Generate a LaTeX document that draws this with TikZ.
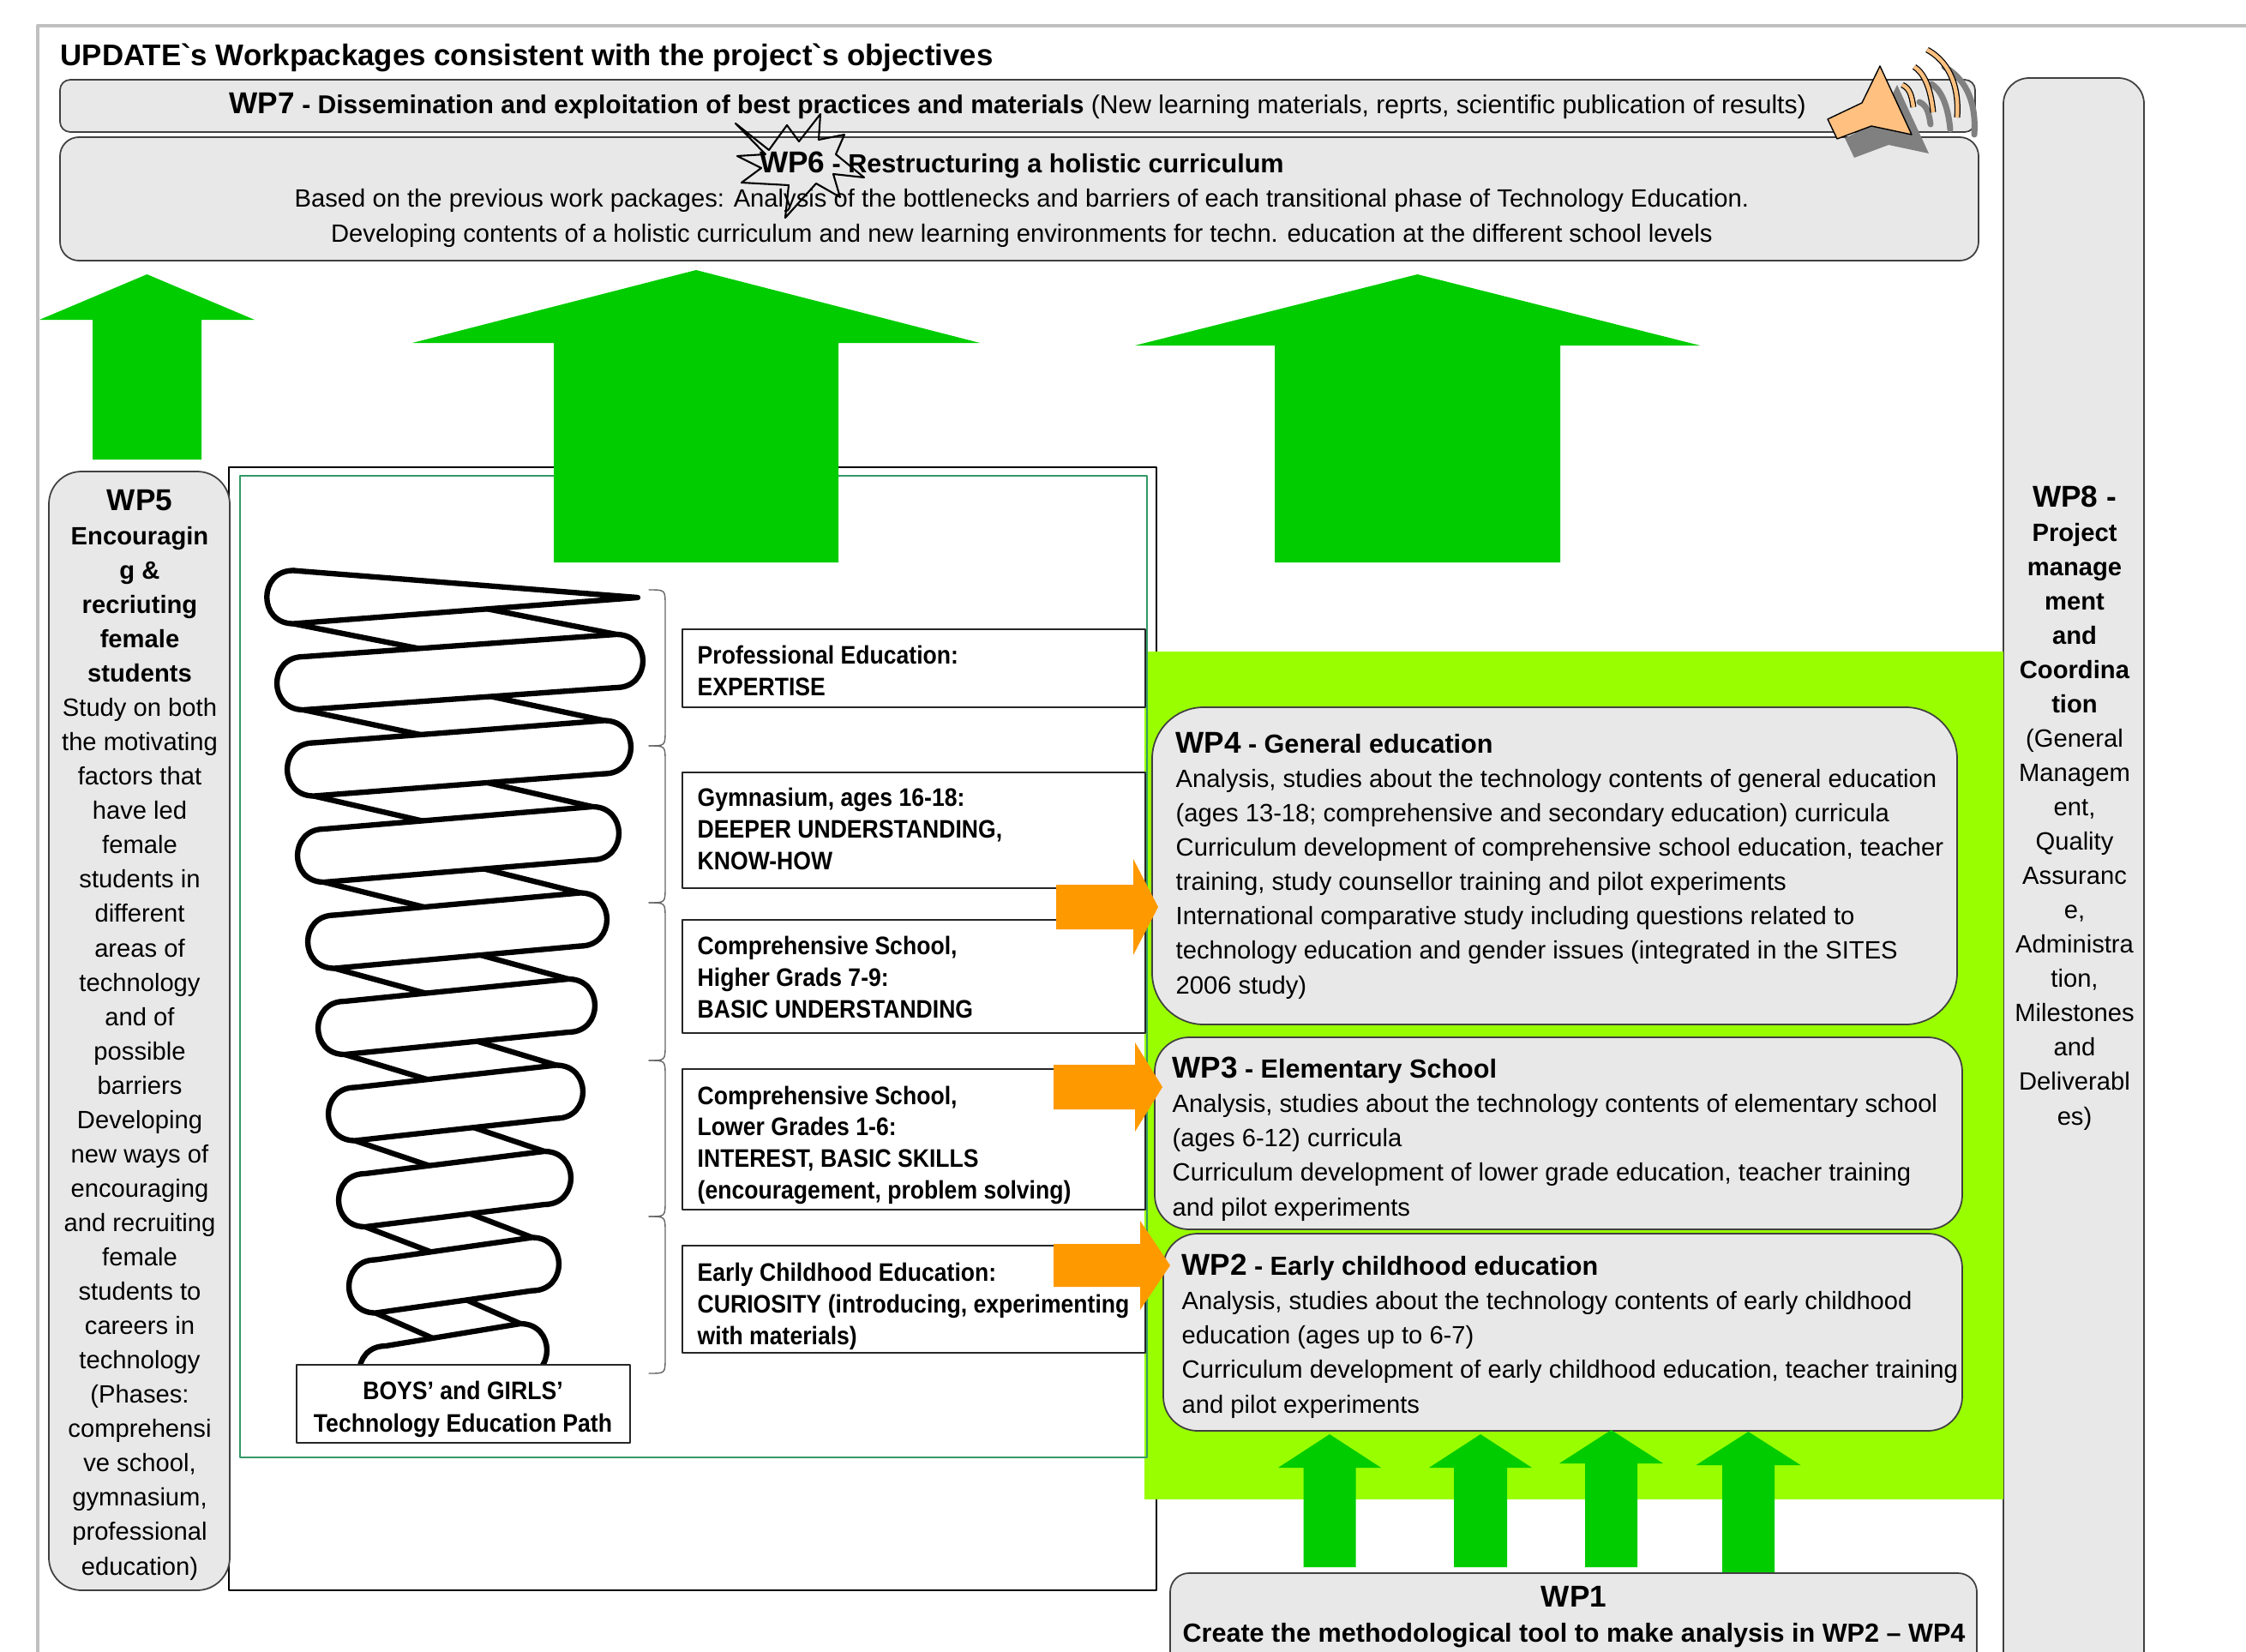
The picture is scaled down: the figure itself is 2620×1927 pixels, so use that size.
\documentclass[tikz,border=0pt]{standalone}
\usepackage{fontspec}
\setmainfont{Liberation Sans}
\newfontfamily\narrowfont[FakeStretch=0.9]{Liberation Sans}
\definecolor{boxgray}{HTML}{E8E8E8}
\definecolor{limefield}{HTML}{99FF00}
\definecolor{arrowgreen}{HTML}{00CC00}
\definecolor{arroworange}{HTML}{FF9900}
\definecolor{peach}{HTML}{FFC080}
\definecolor{tealline}{HTML}{339966}
\definecolor{framegray}{HTML}{C0C0C0}
\tikzset{
  wpbox/.style={draw=black!75, line width=0.5pt, fill=boxgray},
  body/.style={font=\fontsize{8.3}{11.39}\selectfont, inner sep=0pt},
  levelbox/.style={draw=black!85, line width=0.6pt, fill=white},
  leveltext/.style={font=\narrowfont\bfseries\fontsize{8.4}{10.4}\selectfont, align=left, inner sep=0pt, anchor=base west},
  greenarrow/.style={fill=arrowgreen},
  orangearrow/.style={fill=arroworange},
  springline/.style={line width=1.8pt, fill=white, line join=round},
  bracket/.style={draw=black!60, line width=0.4pt},
  wave/.style={line width=0.07cm},
}
\newcommand{\wpname}[1]{{\fontsize{10}{11.39}\selectfont\bfseries #1}}
\newcommand{\wphead}[1]{{\fontsize{8.7}{11.39}\selectfont\bfseries #1}}
% x, tip y, head base y, head half width, shaft half width, bottom y
\newcommand{\greenup}[6]{\fill[greenarrow] (#1,#2) -- ({#1+#4},#3) -- ({#1+#5},#3) -- ({#1+#5},#6) -- ({#1-#5},#6) -- ({#1-#5},#3) -- ({#1-#4},#3) -- cycle;}
% tail x, head base x, tip x, mid y, shaft half, head half
\newcommand{\orangeright}[6]{\fill[orangearrow] (#3,#4) -- (#2,{#4-#6}) -- (#2,{#4-#5}) -- (#1,{#4-#5}) -- (#1,{#4+#5}) -- (#2,{#4+#5}) -- (#2,{#4+#6}) -- cycle;}
\begin{document}
\begin{tikzpicture}[x=0.01cm, y=-0.01cm, line cap=round, line join=round]
\useasboundingbox (0,0) rectangle (2620,1927);
\clip (0,0) rectangle (2620,1927);
\draw[framegray, line width=1.2pt] (44,1927) -- (44,30) -- (2620,30);
\node[font=\fontsize{9.9}{12}\selectfont\bfseries, anchor=base west, inner sep=0pt] (title) at (70,76) {UPDATE\textasciigrave s Workpackages consistent with the project\textasciigrave s objectives};

% WP7 and WP6
\draw[wpbox, rounded corners=0.12cm] (70,93) rectangle (2304,154);
\draw[wpbox, rounded corners=0.22cm] (70,160) rectangle (2308,304);
\node[body, font=\fontsize{8.55}{11.39}\selectfont, anchor=base west] (wp7) at (267,133) {\wpname{WP7} \textbf{- Dissemination and exploitation of best practices and materials} (New learning materials, reprts, scientific publication of results)};
\draw[line width=0.6pt] (858,144) -- (897,175) -- (918,146) -- (932,165) -- (957,133) -- (955,163) -- (985,157) -- (975,180) -- (1008,207) -- (972,203) -- (980,230) -- (952,214) -- (916,254) -- (920,216) -- (865,213) -- (888,196) -- (860,182) -- (893,180) -- cycle;
\node[body, align=center, anchor=base] (wp6) at (1192,282) {\wpname{WP6} \wphead{- Restructuring a holistic curriculum}\\
Based on the previous work packages: Analysis of the bottlenecks and barriers of each transitional phase of Technology Education.\\
Developing contents of a holistic curriculum and new learning environments for techn. education at the different school levels};

% megaphone
\fill[black!50, shift={(20,22)}] (2193,77) -- (2230,157) -- (2183,147) -- (2143,162) -- (2132,139) -- (2172,120) -- cycle;
\draw[black!50, wave, shift={(20,20)}] (2219,99) .. controls (2228,103) and (2230,112) .. (2232,125)
  (2233,78) .. controls (2243,84) and (2252,100) .. (2255,131)
  (2248,58) .. controls (2270,70) and (2286,95) .. (2283,137);
\draw[fill=peach, line width=0.4pt] (2193,77) -- (2230,157) -- (2183,147) -- (2143,162) -- (2132,139) -- (2172,120) -- cycle;
\draw[wave, line cap=butt] (2219,99) .. controls (2228,103) and (2230,112) .. (2232,125)
  (2233,78) .. controls (2243,84) and (2252,100) .. (2255,131)
  (2248,58) .. controls (2270,70) and (2286,95) .. (2283,137);
\draw[peach, line width=0.045cm, line cap=butt] (2219,99) .. controls (2228,103) and (2230,112) .. (2232,125)
  (2233,78) .. controls (2243,84) and (2252,100) .. (2255,131)
  (2248,58) .. controls (2270,70) and (2286,95) .. (2283,137);

% WP8
\draw[wpbox, rounded corners=0.3cm] (2337,91) rectangle (2501,2000);
\node[body, align=center, anchor=base] (wp8) at (2420,1312) {\wpname{WP8 -}\\ \textbf{Project}\\ \textbf{manage}\\ \textbf{ment}\\ \textbf{and}\\ \textbf{Coordina}\\ \textbf{tion}\\
(General\\ Managem\\ ent,\\ Quality\\ Assuranc\\ e,\\ Administra\\ tion,\\ Milestones\\ and\\ Deliverabl\\ es)};

% path frame and field
\draw[line width=0.8pt, fill=white] (267,545) rectangle (1349,1855);
\fill[limefield] (1335,760) rectangle (2337,1749);
\draw[tealline, line width=0.6pt] (280,555) rectangle (1338,1700);

% big arrows up
\greenup{171.5}{320}{373}{125.5}{63.5}{536}
\greenup{812}{315}{400}{331}{166}{656}
\greenup{1653.5}{320}{403}{329.5}{166.5}{656}

% WP5
\draw[wpbox, rounded corners=0.38cm] (57,550) rectangle (268,1855);
\node[body, align=center, anchor=base] (wp5) at (163,1837) {\wpname{WP5}\\ \textbf{Encouragin}\\ \textbf{g \&}\\ \textbf{recriuting}\\ \textbf{female}\\ \textbf{students}\\
Study on both\\ the motivating\\ factors that\\ have led\\ female\\ students in\\ different\\ areas of\\ technology\\ and of\\ possible\\ barriers\\ Developing\\ new ways of\\ encouraging\\ and recruiting\\ female\\ students to\\ careers in\\ technology\\ (Phases:\\ comprehensi\\ ve school,\\ gymnasium,\\ professional\\ education)};

% spring
\foreach \k in {1,...,9}{
  \pgfmathsetmacro\la{323+12*(\k-2)+31}
  \pgfmathsetmacro\ya{797+100.5*(\k-2)}
  \pgfmathsetmacro\rb{750-14*(\k-1)-31}
  \pgfmathsetmacro\yb{797+100.5*(\k-1)-26}
  \draw[springline] (\la,\ya-31) -- (\rb,\yb-31) -- (\rb,\yb+31) -- (\la,\ya+31) -- cycle;
}
\draw[springline] (744,697) -- (342,665.5) .. controls (301,665.5) and (301,727.5) .. (342,727.5) -- cycle;
\foreach \k in {2,...,10}{
  \pgfmathsetmacro\lx{323+12*(\k-2)}
  \pgfmathsetmacro\rx{750-14*(\k-2)}
  \pgfmathsetmacro\ly{797+100.5*(\k-2)}
  \pgfmathsetmacro\ry{\ly-26}
  \draw[springline] (\lx+31,\ly-31) -- (\rx-31,\ry-31) .. controls (\rx+10.3,\ry-31) and (\rx+10.3,\ry+31) .. (\rx-31,\ry+31) -- (\lx+31,\ly+31) .. controls (\lx-10.3,\ly+31) and (\lx-10.3,\ly-31) .. (\lx+31,\ly-31) -- cycle;
}
\foreach \a/\b in {688/870, 870/1053, 1053/1237, 1237/1419, 1419/1602}{
  \draw[bracket] (757,\a) .. controls (776,\a) .. (776,\a+18) -- (776,\b-18) .. controls (776,\b) .. (757,\b);
}

% school levels
\draw[levelbox] (796,734) rectangle (1336,825);
\draw[levelbox] (796,901) rectangle (1336,1036);
\draw[levelbox] (796,1073) rectangle (1336,1205);
\draw[levelbox] (796,1247) rectangle (1336,1411);
\draw[levelbox] (796,1453) rectangle (1336,1578);
\node[leveltext] (prof) at (813,811) {Professional Education:\\ EXPERTISE};
\node[leveltext] (gym) at (813,1014) {Gymnasium, ages 16-18:\\ DEEPER UNDERSTANDING,\\ KNOW-HOW};
\node[leveltext] (higher) at (813,1187) {Comprehensive School,\\ Higher Grads 7-9:\\ BASIC UNDERSTANDING};
\node[leveltext] (lower) at (813,1398) {Comprehensive School,\\ Lower Grades 1-6:\\ INTEREST, BASIC SKILLS\\ (encouragement, problem solving)};
\node[leveltext] (early) at (813,1568) {Early Childhood Education:\\ CURIOSITY (introducing, experimenting\\ with materials)};
\draw[levelbox] (346,1592) rectangle (735,1683);
\node[leveltext, font=\narrowfont\bfseries\fontsize{8.4}{10.8}\selectfont, align=center, anchor=base] (path) at (540,1670) {BOYS’ and GIRLS’\\ Technology Education Path};

% WP4, WP3, WP2
\draw[wpbox, rounded corners=0.6cm] (1344,825) rectangle (2283,1195);
\draw[wpbox, rounded corners=0.4cm] (1347,1210) rectangle (2289,1434);
\draw[wpbox, rounded corners=0.4cm] (1357,1439) rectangle (2289,1669);
\node[body, align=left, anchor=base west] (wp4) at (1371,1159) {\wpname{WP4} \wphead{- General education}\\
Analysis, studies about the technology contents of general education\\
(ages 13-18; comprehensive and secondary education) curricula\\
Curriculum development of comprehensive school education, teacher\\
training, study counsellor training and pilot experiments\\
International comparative study including questions related to\\
technology education and gender issues (integrated in the SITES\\
2006 study)};
\node[body, align=left, anchor=base west] (wp3) at (1367,1418) {\wpname{WP3} \wphead{- Elementary School}\\
Analysis, studies about the technology contents of elementary school\\
(ages 6-12) curricula\\
Curriculum development of lower grade education, teacher training\\
and pilot experiments};
\node[body, align=left, anchor=base west] (wp2) at (1378,1648) {\wpname{WP2} \wphead{- Early childhood education}\\
Analysis, studies about the technology contents of early childhood\\
education (ages up to 6-7)\\
Curriculum development of early childhood education, teacher training\\
and pilot experiments};

% orange arrows into the packages
\orangeright{1232}{1322}{1351}{1058}{26}{56}
\orangeright{1229}{1324}{1356}{1268}{26}{52}
\orangeright{1229}{1330}{1365}{1476}{25}{52}

% WP1 and its arrows
\greenup{1551}{1673}{1712}{60}{30.5}{1828}
\greenup{1727}{1673}{1712}{60}{31}{1828}
\greenup{1879.5}{1668}{1707}{60.5}{30.5}{1828}
\greenup{2039.5}{1670}{1709}{61}{30.5}{1835}
\draw[wpbox, rounded corners=0.22cm] (1365,1835) rectangle (2306,1990);
\node[body, align=center, anchor=base] (wp1) at (1836,1915) {\wpname{WP1}\\ {\fontsize{8.7}{11.39}\selectfont\bfseries Create the methodological tool to make analysis in WP2 – WP4}};
\end{tikzpicture}
\end{document}
